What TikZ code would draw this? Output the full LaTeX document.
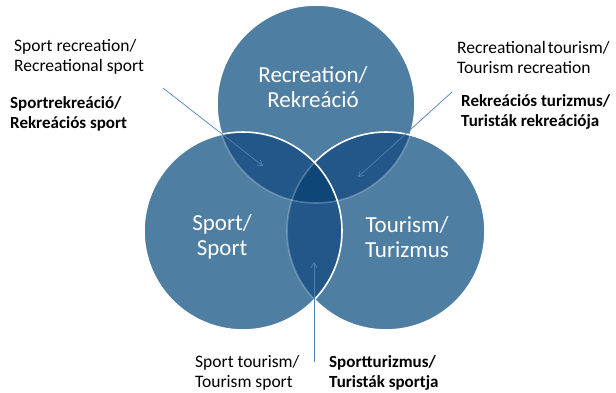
\documentclass[tikz,border=0pt]{standalone}
\usepackage{fontspec}
\setmainfont{Carlito}
\usetikzlibrary{arrows.meta}
\definecolor{basec}{HTML}{4E7FA3}
\definecolor{pairc}{HTML}{23578A}
\definecolor{triplec}{HTML}{0D4677}
\definecolor{arrowc}{HTML}{4F81BD}
\tikzset{
  outline/.style={draw=white,line width=1.6pt},
  faint/.style={draw=white,line width=1.6pt,draw opacity=0.25},
  circtext/.style={text=white,font=\fontsize{23}{25}\selectfont,align=center,inner sep=0pt},
  sidetext/.style={text=black,font=\fontsize{17.5}{20}\selectfont,align=left,inner sep=0pt},
  boldtext/.style={sidetext,font=\fontsize{17}{20}\selectfont\bfseries},
  pointer/.style={draw=arrowc,line width=0.7pt,-{Straight Barb[length=5pt,width=6pt]}}
}
\begin{document}
\begin{tikzpicture}[x=1pt,y=-1pt]
\useasboundingbox (0,0) rectangle (616,392);
\def\R{99}
\coordinate (T) at (316,104);
\coordinate (L) at (243,231);
\coordinate (Rt) at (386,231);
% top circle
\fill[basec] (T) circle (\R);
\draw[outline] (T) circle (\R);
% right circle
\fill[basec] (Rt) circle (\R);
\begin{scope}
  \clip (Rt) circle (\R);
  \fill[pairc] (T) circle (\R);
  \draw[faint] (T) circle (\R);
\end{scope}
\draw[outline] (Rt) circle (\R);
% left circle
\fill[basec] (L) circle (\R);
\begin{scope}
  \clip (L) circle (\R);
  \fill[pairc] (T) circle (\R);
  \fill[pairc] (Rt) circle (\R);
  \begin{scope}
    \clip (T) circle (\R);
    \fill[triplec] (Rt) circle (\R);
  \end{scope}
  \draw[faint] (T) circle (\R);
  \draw[faint] (Rt) circle (\R);
\end{scope}
\draw[outline] (L) circle (\R);
% circle labels
\node[circtext] (rec) at (313,87) {Recreation/\\Rekreáció};
\node[circtext] (spo) at (222,237) {Sport/\\Sport};
\node[circtext] (tou) at (407,237) {Tourism/\\Turizmus};
% side labels
\node[sidetext,anchor=west] (l1) at (14,57) {Sport recreation/\\Recreational sport};
\node[boldtext,anchor=west] (l2) at (10,114) {Sportrekreáció/\\Rekreációs sport};
\node[sidetext,anchor=west] (r1) at (457,57) {Recreational\hspace{2pt}tourism/\\Tourism recreation};
\node[boldtext,anchor=west] (r2) at (461,112) {Rekreációs turizmus/\\Turisták rekreációja};
\node[sidetext,anchor=west] (b1) at (195,373) {Sport tourism/\\Tourism sport};
\node[boldtext,anchor=west] (b2) at (329,373) {Sportturizmus/\\Turisták sportja};
% pointers
\coordinate (a1s) at (163,88);
\coordinate (a1e) at (263,166);
\coordinate (a2s) at (452,92);
\coordinate (a2e) at (358,177);
\coordinate (a3s) at (314,362);
\coordinate (a3e) at (314,262);
\draw[pointer] (a1s) -- (a1e);
\draw[pointer] (a2s) -- (a2e);
\draw[pointer] (a3s) -- (a3e);
\end{tikzpicture}
\end{document}
